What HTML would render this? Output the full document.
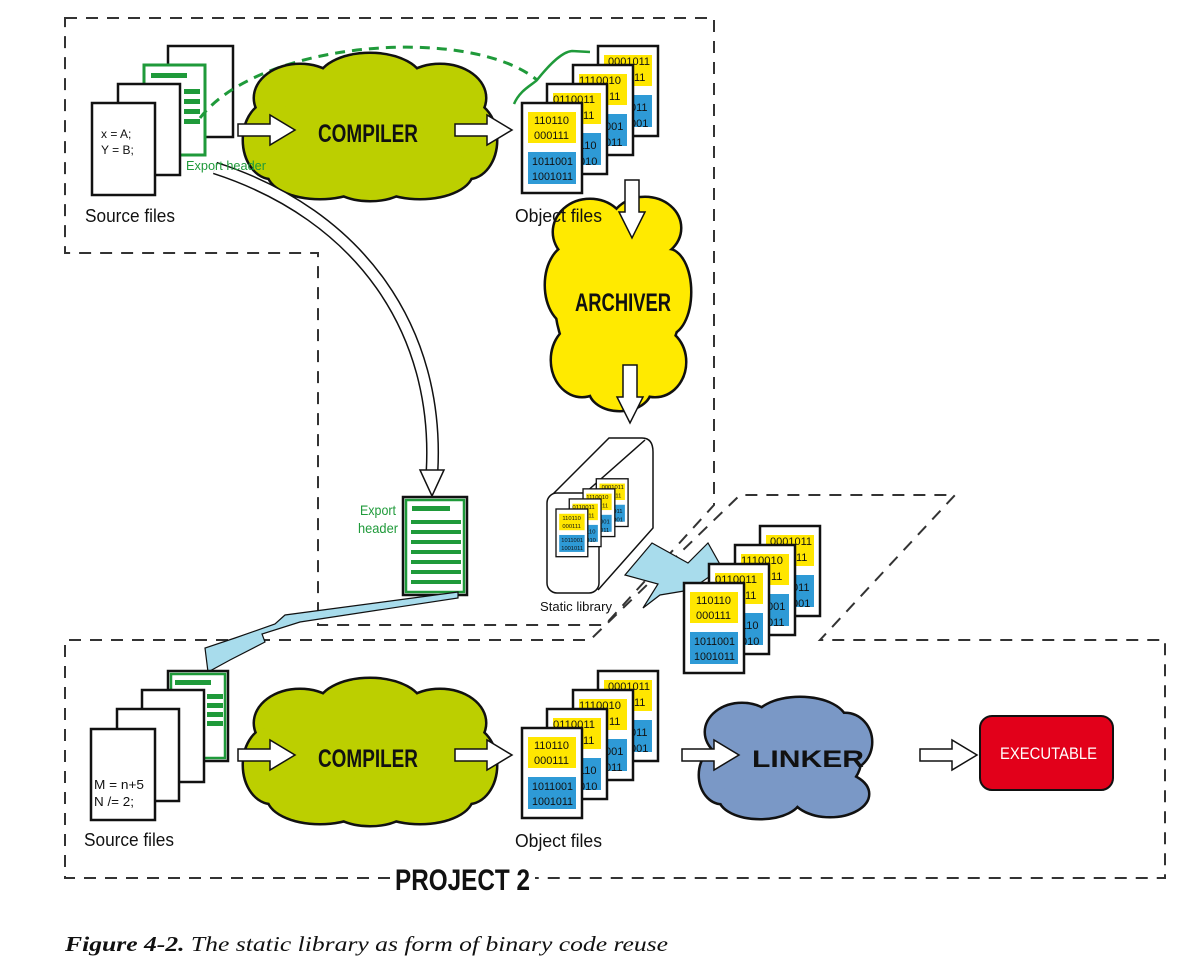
<!DOCTYPE html>
<html><head><meta charset="utf-8"><style>
html,body{margin:0;padding:0;background:#fff;}
svg{display:block;}
.t{font-family:"Liberation Sans",sans-serif;}
</style></head><body>
<svg width="1189" height="968" viewBox="0 0 1189 968" xmlns="http://www.w3.org/2000/svg">
<defs>
 <g id="page">
  <rect x="0" y="0" width="60" height="90" fill="#fff" stroke="#111" stroke-width="2.5"/>
  <rect x="6" y="9" width="48" height="31" fill="#ffe600"/>
  <rect x="6" y="49" width="48" height="32" fill="#2e9ad6"/>
 </g>
 <g id="obj" class="t" font-size="11" fill="#111">
  <use href="#page" x="76" y="-57"/>
  <text x="86" y="-38" textLength="42" lengthAdjust="spacingAndGlyphs">0001011</text><text x="112" y="-22">11</text><text x="108" y="8">011</text><text x="108" y="24">001</text>
  <use href="#page" x="51" y="-38"/>
  <text x="57" y="-19" textLength="42" lengthAdjust="spacingAndGlyphs">1110010</text><text x="87" y="-3">11</text><text x="83" y="27">001</text><text x="83" y="43">011</text>
  <use href="#page" x="25" y="-19"/>
  <text x="31" y="0" textLength="42" lengthAdjust="spacingAndGlyphs">0110011</text><text x="61" y="16">11</text><text x="57" y="46">110</text><text x="57" y="62">010</text>
  <use href="#page" x="0" y="0"/>
  <text x="12" y="21" textLength="35" lengthAdjust="spacingAndGlyphs">110110</text><text x="12" y="36" textLength="35" lengthAdjust="spacingAndGlyphs">000111</text><text x="10" y="62" textLength="41" lengthAdjust="spacingAndGlyphs">1011001</text><text x="10" y="77" textLength="41" lengthAdjust="spacingAndGlyphs">1001011</text>
 </g>
 <g id="cloudC">
  <g stroke="#111" stroke-width="5">
   <ellipse cx="370" cy="130" rx="110" ry="55"/><ellipse cx="300" cy="98" rx="45" ry="33"/><ellipse cx="370" cy="82" rx="52" ry="28"/><ellipse cx="440" cy="98" rx="45" ry="33"/><ellipse cx="272" cy="140" rx="28" ry="38"/><ellipse cx="468" cy="140" rx="28" ry="38"/><ellipse cx="320" cy="172" rx="52" ry="26"/><ellipse cx="420" cy="172" rx="52" ry="26"/><ellipse cx="370" cy="180" rx="40" ry="20"/>
  </g>
  <g>
   <ellipse cx="370" cy="130" rx="110" ry="55"/><ellipse cx="300" cy="98" rx="45" ry="33"/><ellipse cx="370" cy="82" rx="52" ry="28"/><ellipse cx="440" cy="98" rx="45" ry="33"/><ellipse cx="272" cy="140" rx="28" ry="38"/><ellipse cx="468" cy="140" rx="28" ry="38"/><ellipse cx="320" cy="172" rx="52" ry="26"/><ellipse cx="420" cy="172" rx="52" ry="26"/><ellipse cx="370" cy="180" rx="40" ry="20"/>
  </g>
 </g>
 <polygon id="arrR" points="0,-6 32,-6 32,-15 57,0 32,15 32,6 0,6" fill="#fff" stroke="#111" stroke-width="1.5"/>
 <polygon id="arrD" points="-7,0 7,0 7,32 13,32 0,58 -13,32 -7,32" fill="#fff" stroke="#111" stroke-width="1.5"/>
</defs>

<g fill="none" stroke="#333" stroke-width="2" stroke-dasharray="12,9">
 <path d="M65,18 H714 V505 L605,625 H318 V253 H65 Z"/>
 <path d="M390,878 H65 V640 H590 L740,495 H955 L820,640 H1165 V878 H535"/>
</g>

<rect x="168" y="46" width="65" height="91" fill="#fff" stroke="#111" stroke-width="2.5"/>
<rect x="144" y="65" width="61" height="90" fill="#fff" stroke="#1f9a3a" stroke-width="3"/>
<g fill="#1f9a3a"><rect x="151" y="73" width="36" height="5"/><rect x="184" y="89" width="16" height="5"/><rect x="184" y="99" width="16" height="5"/><rect x="184" y="109" width="16" height="5"/><rect x="184" y="119" width="16" height="5"/></g>
<rect x="118" y="84" width="62" height="91" fill="#fff" stroke="#111" stroke-width="2.5"/>
<rect x="92" y="103" width="63" height="92" fill="#fff" stroke="#111" stroke-width="2.5"/>
<text class="t" x="101" y="138" font-size="12" fill="#111">x = A;</text>
<text class="t" x="101" y="154" font-size="12" fill="#111">Y = B;</text>

<path d="M200,118 C260,40 470,25 537,80" fill="none" stroke="#1f9a3a" stroke-width="3" stroke-dasharray="10,7"/>
<path d="M514,104 C520,90 532,85 537,80 C545,70 560,52 572,51 L590,52" fill="none" stroke="#1f9a3a" stroke-width="2.5"/>

<use href="#cloudC" fill="#bccf00"/>
<text class="t" x="318" y="142" font-size="25" font-weight="bold" fill="#111" textLength="100" lengthAdjust="spacingAndGlyphs">COMPILER</text>
<use href="#arrR" x="238" y="130"/>
<use href="#arrR" x="455" y="130"/>

<g fill="#ffea00">
 <g stroke="#111" stroke-width="5">
  <ellipse cx="618" cy="300" rx="62" ry="85"/><ellipse cx="590" cy="232" rx="36" ry="32"/><ellipse cx="645" cy="228" rx="35" ry="30"/><ellipse cx="572" cy="285" rx="26" ry="40"/><ellipse cx="668" cy="292" rx="22" ry="42"/><ellipse cx="582" cy="360" rx="30" ry="36"/><ellipse cx="655" cy="362" rx="30" ry="34"/><ellipse cx="620" cy="390" rx="30" ry="20"/>
 </g>
 <ellipse cx="618" cy="300" rx="62" ry="85"/><ellipse cx="590" cy="232" rx="36" ry="32"/><ellipse cx="645" cy="228" rx="35" ry="30"/><ellipse cx="572" cy="285" rx="26" ry="40"/><ellipse cx="668" cy="292" rx="22" ry="42"/><ellipse cx="582" cy="360" rx="30" ry="36"/><ellipse cx="655" cy="362" rx="30" ry="34"/><ellipse cx="620" cy="390" rx="30" ry="20"/>
</g>

<use href="#obj" x="522" y="103"/>
<text class="t" x="515" y="222" font-size="18" fill="#111" textLength="87" lengthAdjust="spacingAndGlyphs">Object files</text>
<text class="t" x="575" y="311" font-size="25" font-weight="bold" fill="#111" textLength="96" lengthAdjust="spacingAndGlyphs">ARCHIVER</text>
<use href="#arrD" x="632" y="180"/>
<use href="#arrD" x="630" y="365"/>

<path d="M550,497 L609,438 H642 Q653,438 653,452 V528 L598,590" fill="#fff" stroke="#111" stroke-width="1.5"/>
<path d="M585,493 L645,440" fill="none" stroke="#111" stroke-width="1.5"/>
<rect x="547" y="493" width="52" height="100" rx="10" fill="#fff" stroke="#111" stroke-width="1.5"/>
<use href="#obj" transform="translate(556,509) scale(0.53)"/>
<text class="t" x="540" y="611" font-size="13" fill="#111" textLength="72" lengthAdjust="spacingAndGlyphs">Static library</text>

<path d="M215,168 C360,215 440,330 432,472" fill="none" stroke="#111" stroke-width="13"/>
<path d="M215,168 C360,215 440,330 432,472" fill="none" stroke="#fff" stroke-width="10"/>
<polygon points="420,470 444,470 432,496" fill="#fff" stroke="#111" stroke-width="1.5"/>
<text class="t" x="186" y="170" font-size="13" fill="#1f9a3a" textLength="80" lengthAdjust="spacingAndGlyphs">Export header</text>
<text class="t" x="85" y="222" font-size="18" fill="#111" textLength="90" lengthAdjust="spacingAndGlyphs">Source files</text>

<rect x="403" y="497" width="64" height="98" fill="#fff" stroke="#111" stroke-width="2.5"/>
<rect x="406" y="500" width="58" height="92" fill="none" stroke="#1f9a3a" stroke-width="2.5"/>
<g fill="#1f9a3a"><rect x="412" y="506" width="38" height="5"/><rect x="411" y="520" width="50" height="4"/><rect x="411" y="530" width="50" height="4"/><rect x="411" y="540" width="50" height="4"/><rect x="411" y="550" width="50" height="4"/><rect x="411" y="560" width="50" height="4"/><rect x="411" y="570" width="50" height="4"/><rect x="411" y="580" width="50" height="4"/></g>
<text class="t" x="360" y="515" font-size="14" fill="#1f9a3a" textLength="36" lengthAdjust="spacingAndGlyphs">Export</text>
<text class="t" x="358" y="533" font-size="14" fill="#1f9a3a" textLength="40" lengthAdjust="spacingAndGlyphs">header</text>

<polygon points="458,592 285,615 275,624 235,638 205,648 208,672 230,660 265,642 262,634 300,622 458,598" fill="#a8dcec" stroke="#111" stroke-width="1.2"/>
<polygon points="625,575 652,543 688,563 708,543 722,568 690,590 660,595 643,608 658,584" fill="#a8dcec" stroke="#111" stroke-width="1.2"/>
<use href="#obj" x="684" y="583"/>

<rect x="168" y="671" width="60" height="90" fill="#fff" stroke="#111" stroke-width="2.5"/>
<rect x="171" y="674" width="54" height="84" fill="#fff" stroke="#1f9a3a" stroke-width="2.5"/>
<g fill="#1f9a3a"><rect x="175" y="680" width="36" height="5"/><rect x="207" y="694" width="16" height="5"/><rect x="207" y="703" width="16" height="5"/><rect x="207" y="712" width="16" height="5"/><rect x="207" y="721" width="16" height="5"/></g>
<rect x="142" y="690" width="62" height="92" fill="#fff" stroke="#111" stroke-width="2.5"/>
<rect x="117" y="709" width="62" height="92" fill="#fff" stroke="#111" stroke-width="2.5"/>
<rect x="91" y="729" width="64" height="91" fill="#fff" stroke="#111" stroke-width="2.5"/>
<text class="t" x="94" y="789" font-size="13" fill="#111" textLength="50" lengthAdjust="spacingAndGlyphs">M = n+5</text>
<text class="t" x="94" y="806" font-size="13" fill="#111" textLength="40" lengthAdjust="spacingAndGlyphs">N /= 2;</text>
<text class="t" x="84" y="846" font-size="18" fill="#111" textLength="90" lengthAdjust="spacingAndGlyphs">Source files</text>

<use href="#cloudC" fill="#bccf00" transform="translate(0,625)"/>
<text class="t" x="318" y="767" font-size="25" font-weight="bold" fill="#111" textLength="100" lengthAdjust="spacingAndGlyphs">COMPILER</text>
<use href="#arrR" x="238" y="755"/>
<use href="#arrR" x="455" y="755"/>
<use href="#obj" x="522" y="728"/>
<text class="t" x="515" y="847" font-size="18" fill="#111" textLength="87" lengthAdjust="spacingAndGlyphs">Object files</text>

<g fill="#7a98c6">
 <g stroke="#111" stroke-width="5">
  <ellipse cx="785" cy="760" rx="75" ry="45"/><ellipse cx="742" cy="732" rx="36" ry="28"/><ellipse cx="800" cy="722" rx="46" ry="24"/><ellipse cx="845" cy="742" rx="26" ry="28"/><ellipse cx="722" cy="775" rx="22" ry="28"/><ellipse cx="760" cy="798" rx="40" ry="20"/><ellipse cx="830" cy="794" rx="38" ry="22"/>
 </g>
 <ellipse cx="785" cy="760" rx="75" ry="45"/><ellipse cx="742" cy="732" rx="36" ry="28"/><ellipse cx="800" cy="722" rx="46" ry="24"/><ellipse cx="845" cy="742" rx="26" ry="28"/><ellipse cx="722" cy="775" rx="22" ry="28"/><ellipse cx="760" cy="798" rx="40" ry="20"/><ellipse cx="830" cy="794" rx="38" ry="22"/>
</g>
<text class="t" x="752" y="767" font-size="24" font-weight="bold" fill="#111" textLength="112" lengthAdjust="spacingAndGlyphs">LINKER</text>
<use href="#arrR" x="682" y="755"/>
<use href="#arrR" x="920" y="755"/>

<rect x="980" y="716" width="133" height="74" rx="12" fill="#e2001a" stroke="#111" stroke-width="2"/>
<text class="t" x="1000" y="759" font-size="17" fill="#fff" textLength="97" lengthAdjust="spacingAndGlyphs">EXECUTABLE</text>

<text class="t" x="395" y="890" font-size="30" font-weight="bold" fill="#111" textLength="135" lengthAdjust="spacingAndGlyphs">PROJECT 2</text>
<text x="65" y="951" font-family="Liberation Serif, serif" font-style="italic" font-size="21" fill="#111" textLength="603" lengthAdjust="spacingAndGlyphs"><tspan font-weight="bold">Figure 4-2.</tspan>  The static library as form of binary code reuse</text>
</svg>
</body></html>
